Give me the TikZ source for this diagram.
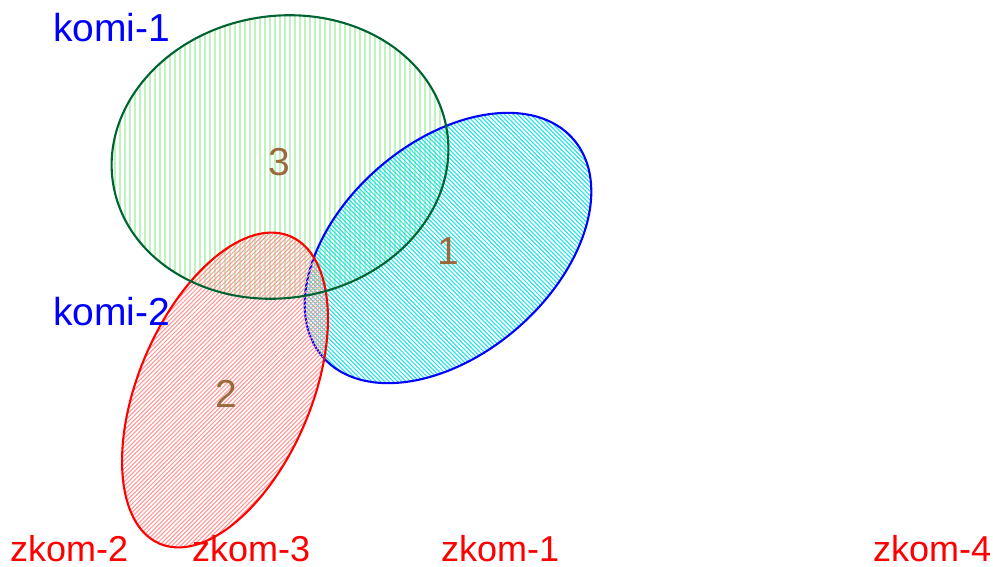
\documentclass[tikz,border=0pt]{standalone}
\usepackage{fontspec}
\setmainfont{Liberation Sans}
\definecolor{hgreen}{RGB}{190,245,190}
\definecolor{hcyan}{RGB}{30,225,230}
\definecolor{hred}{RGB}{255,150,150}
\definecolor{ogreen}{RGB}{0,100,50}
\definecolor{numc}{RGB}{155,105,60}
\tikzset{
  outl/.style={line width=2.1pt},
  numlab/.style={text=numc, inner sep=0pt, font=\fontsize{39}{39}\selectfont},
  setlab/.style={text=blue, inner sep=0pt, anchor=base west, font=\fontsize{39}{39}\selectfont},
  zlab/.style={text=red, inner sep=0pt, anchor=base west, font=\fontsize{36}{36}\selectfont},
}
\begin{document}
\begin{tikzpicture}[x=1pt,y=-1pt]
\useasboundingbox (0,0) rectangle (993,567);
% green hatch
\begin{scope}
\clip[rotate around={9:(280,157)}] (280,157) ellipse [x radius=169pt, y radius=141pt];
\foreach \i in {100,105,...,470} \draw[hgreen, line width=1.9pt] (\i,0) -- (\i,330);
\end{scope}
% blue hatch
\begin{scope}
\clip[rotate around={41:(448,248)}] (448,248) ellipse [x radius=166pt, y radius=106pt];
\foreach \i in {0,4.3,...,610} \draw[hcyan, line width=1.05pt] (\i,100) -- (\i+300,400);
\end{scope}
\draw[blue, outl, rotate around={41:(448,248)}] (448,248) ellipse [x radius=166pt, y radius=106pt];
% red hatch
\begin{scope}
\clip[rotate around={67:(225,390)}] (225,390) ellipse [x radius=167pt, y radius=86.5pt];
\foreach \i in {110,114.3,...,670} \draw[hred, line width=1.05pt] (\i,225) -- (\i-330,555);
\end{scope}
\draw[red, outl, rotate around={67:(225,390)}] (225,390) ellipse [x radius=167pt, y radius=86.5pt];
\draw[ogreen, outl, rotate around={9:(280,157)}] (280,157) ellipse [x radius=169pt, y radius=141pt];
% numbers
\node[numlab] (n3) at (279,162) {3};
\node[numlab] (n1) at (448,251) {1};
\node[numlab] (n2) at (226,394) {2};
% labels
\node[setlab] (k1) at (53,42) {komi-1};
\node[setlab] (k2) at (53,325) {komi-2};
\node[zlab] (z2) at (10,561) {zkom-2};
\node[zlab] (z3) at (192,561) {zkom-3};
\node[zlab] (z1) at (441,561) {zkom-1};
\node[zlab] (z4) at (873,561) {zkom-4};
\end{tikzpicture}
\end{document}
